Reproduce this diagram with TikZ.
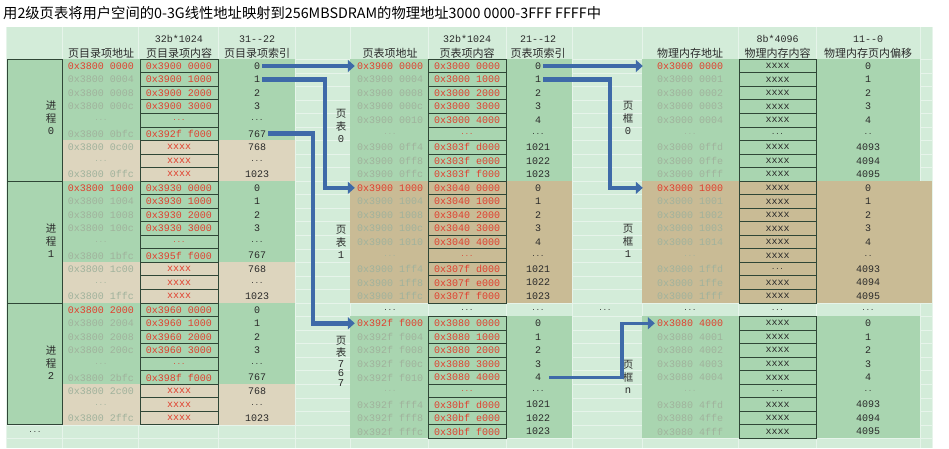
\documentclass[tikz,border=0pt]{standalone}
\usepackage{fontspec}
\setmonofont{Liberation Mono}
\newfontfamily\cjk{Noto Sans CJK SC}
\usepackage{xcolor}
\usepackage{tikz}
\usetikzlibrary{arrows.meta,positioning}

\definecolor{sheetbg}{HTML}{D3ECD9}
\definecolor{gridc}{HTML}{E6F4EA}
\definecolor{hlgreen}{HTML}{A9D5B0}
\definecolor{beige}{HTML}{DDD5BE}
\definecolor{khaki}{HTML}{C9BB95}
\definecolor{boxline}{HTML}{2F4636}
\definecolor{cellred}{HTML}{E0402F}
\definecolor{addrgray}{HTML}{A0B29C}
\definecolor{idxdark}{HTML}{2A2A2A}
\definecolor{arrowblue}{HTML}{3E6AA8}

\newcommand\dts{{\fontsize{7}{8}\selectfont...}}
\newcommand\twodts{{\fontsize{7}{8}\selectfont..}}

\tikzset{
  cell/.style={font=\ttfamily\fontsize{10}{12}\selectfont, inner sep=2pt},
  addrtxt/.style={cell, text=addrgray},
  boxcell/.style={cell, draw=boxline, line width=0.8pt, minimum width=78pt,
    minimum height=13.54pt, inner sep=0pt, text=cellred},
  idxtxt/.style={cell, text=idxdark},
  headtxt/.style={font=\cjk\fontsize{11}{13}\selectfont, text=idxdark, inner sep=0pt},
  bittxt/.style={font=\ttfamily\fontsize{10}{12}\selectfont, text=idxdark, inner sep=0pt},
  sidelabel/.style={font=\cjk\fontsize{10.5}{12.5}\selectfont, align=center,
    text=idxdark, inner sep=0pt},
  pagearrow/.style={draw=arrowblue, line width=4.5pt,
    -{Triangle[length=7pt,width=12pt]}},
}

\begin{document}
\begin{tikzpicture}[x=1pt,y=-1pt]
  \useasboundingbox (0,0) rectangle (949,448);

  % title
  \node[anchor=west, font=\cjk\fontsize{14.3}{16}\selectfont, inner sep=0pt] (title) at (3,13)
    {用2级页表将用户空间的0-3G线性地址映射到256MBSDRAM的物理地址3000 0000-3FFF FFFF中};

  % sheet and grid
  \fill[sheetbg] (6,27) rectangle (932,448);
  \foreach \gx in {6,62,138,218,295,350,428,506,572,642,738,816,920,932}
    \draw[gridc] (\gx,27) -- (\gx,448);
  \foreach \gk in {0,...,28}
    \draw[gridc] (6,{59.2+13.54*\gk}) -- (932,{59.2+13.54*\gk});

  % coloured blocks
  \foreach \p in {0,1,2} {
    \fill[hlgreen] (62,{59.2+13.54*9*\p}) rectangle (295,{59.2+13.54*(9*\p+6)});
    \fill[beige] (62,{59.2+13.54*(9*\p+6)}) rectangle (295,{59.2+13.54*(9*\p+9)});
    \draw[boxline, line width=0.8pt, fill=hlgreen] (7,{59.2+13.54*9*\p}) rectangle (62,{59.2+13.54*(9*\p+9)});
  }
  \foreach \rb/\blk in {0/hlgreen,9/khaki,19/hlgreen} {
    \fill[\blk] (350,{59.2+13.54*\rb}) rectangle (572,{59.2+13.54*(\rb+9)});
  }
  \fill[hlgreen] (642,59.2) rectangle (920,{59.2+13.54*9});
  \fill[khaki] (642,{59.2+13.54*9}) rectangle (932,{59.2+13.54*18});
  \fill[hlgreen] (642,{59.2+13.54*19}) rectangle (920,{59.2+13.54*28});

  % headers
  \node[headtxt] (h1) at (101,53) {页目录项地址};
  \node[bittxt] (b2) at (179,39) {32b*1024};
  \node[headtxt] (h2) at (179,53) {页目录项内容};
  \node[bittxt] (b3) at (257,39) {31--22};
  \node[headtxt] (h3) at (257,53) {页目录项索引};
  \node[headtxt] (h4) at (390,53) {页表项地址};
  \node[bittxt] (b5) at (467,39) {32b*1024};
  \node[headtxt] (h5) at (467,53) {页表项内容};
  \node[bittxt] (b6) at (538,39) {21--12};
  \node[headtxt] (h6) at (538,53) {页表项索引};
  \node[headtxt] (h7) at (690,53) {物理内存地址};
  \node[bittxt] (b8) at (777.5,39) {8b*4096};
  \node[headtxt] (h8) at (777.5,53) {物理内存内容};
  \node[bittxt] (b9) at (868,39) {11--0};
  \node[headtxt] (h9) at (868,53) {物理内存页内偏移};

  % page directory (one per process)
  \foreach \p/\cc/\ce in {0/00/2f,1/30/5f,2/60/8f} {
    \foreach \ad/\ct/\n [count=\k from 0] in {
        0x3800 \p000/0x39\cc{} 0000/0,
        0x3800 \p004/0x39\cc{} 1000/1,
        0x3800 \p008/0x39\cc{} 2000/2,
        0x3800 \p00c/0x39\cc{} 3000/3,
        \dts/\dts/\dts,
        0x3800 \p{}bfc/0x39\ce{} f000/767,
        0x3800 \p{}c00/xxxx/768,
        \dts/xxxx/\dts,
        0x3800 \p{}ffc/xxxx/1023} {
      \pgfmathtruncatemacro\rw{9*\p+\k}
      \ifnum\k=0 \def\acol{cellred}\else\def\acol{addrgray}\fi
      \node[addrtxt, text=\acol] (da\rw) at (101,{66+13.54*\rw}) {\ad};
      \node[boxcell] (dc\rw) at (179,{66+13.54*\rw}) {\ct};
      \node[idxtxt] (di\rw) at (257,{66+13.54*\rw}) {\n};
    }
  }
  \node[idxtxt] (da27) at (35,{66+13.54*27}) {\dts};

  % page tables
  \foreach \rb/\pta/\ptc/\pte in {0/0x3900 0/3000/303f, 9/0x3900 1/3040/307f, 19/0x392f f/3080/30bf} {
    \foreach \ad/\ct/\n [count=\k from 0] in {
        \pta000/0x\ptc{} 0000/0,
        \pta004/0x\ptc{} 1000/1,
        \pta008/0x\ptc{} 2000/2,
        \pta00c/0x\ptc{} 3000/3,
        \pta010/0x\ptc{} 4000/4,
        \dts/\dts/\dts,
        \pta{}ff4/0x\pte{} d000/1021,
        \pta{}ff8/0x\pte{} e000/1022,
        \pta{}ffc/0x\pte{} f000/1023} {
      \pgfmathtruncatemacro\rw{\rb+\k}
      \ifnum\k=0 \def\acol{cellred}\else\def\acol{addrgray}\fi
      \node[addrtxt, text=\acol] (pa\rw) at (390,{66+13.54*\rw}) {\ad};
      \node[boxcell] (pc\rw) at (467,{66+13.54*\rw}) {\ct};
      \node[idxtxt] (pi\rw) at (538,{66+13.54*\rw}) {\n};
    }
  }

  % page frames
  \foreach \rb/\fa/\fe/\cf/\cg in {0/0x3000 0/004/\dts/xxxx, 9/0x3000 1/014/xxxx/\dts, 19/0x3080 4/004/\dts/xxxx} {
    \foreach \ad/\ct/\n [count=\k from 0] in {
        \fa000/xxxx/0,
        \fa001/xxxx/1,
        \fa002/xxxx/2,
        \fa003/xxxx/3,
        \fa\fe/xxxx/4,
        \dts/\cf/\twodts,
        \fa{}ffd/\cg/4093,
        \fa{}ffe/xxxx/4094,
        \fa{}fff/xxxx/4095} {
      \pgfmathtruncatemacro\rw{\rb+\k}
      \ifnum\k=0 \def\acol{cellred}\else\def\acol{addrgray}\fi
      \node[addrtxt, text=\acol] (fa\rw) at (690,{66+13.54*\rw}) {\ad};
      \node[boxcell, minimum width=77pt, text=idxdark] (fc\rw) at (777.5,{66+13.54*\rw}) {\ct};
      \node[idxtxt] (fo\rw) at (868,{66+13.54*\rw}) {\n};
    }
  }

  % row 18 gaps
  \foreach \gx/\gn in {390/pa18,467/pc18,538/pi18,605/gap18,690/fa18,777.5/fc18,868/fo18}
    \node[idxtxt] (\gn) at (\gx,{66+13.54*18}) {\dts};

  % side labels
  \node[sidelabel] (proc0) at (51,118) {进\\程\\{\ttfamily 0}};
  \node[sidelabel] (proc1) at (51,241) {进\\程\\{\ttfamily 1}};
  \node[sidelabel] (proc2) at (51,363) {进\\程\\{\ttfamily 2}};
  \node[sidelabel] (tab0) at (341,126) {页\\表\\{\ttfamily 0}};
  \node[sidelabel] (tab1) at (341,242) {页\\表\\{\ttfamily 1}};
  \node[sidelabel] (tab767) at (341,361) {页\\表\\[-2pt]{\ttfamily 7}\\[-3pt]{\ttfamily 6}\\[-3pt]{\ttfamily 7}};
  \node[sidelabel] (frm0) at (628,118) {页\\框\\{\ttfamily 0}};
  \node[sidelabel] (frm1) at (628,241) {页\\框\\{\ttfamily 1}};
  \node[sidelabel] (frmn) at (628,377) {页\\框\\{\ttfamily n}};

  % directory -> page tables
  \draw[pagearrow] (di0.east) -- (pa0.west);
  \draw[pagearrow] (di1.east) -- ++(63,0) |- (pa9.west);
  \draw[pagearrow] (di5.east) -- ++(45,0) |- (pa19.west);
  % page tables -> frames
  \draw[pagearrow, shorten >=12pt] (pi0.east) -- (fa0.west);
  \draw[pagearrow, shorten >=12pt] (pi1.east) -- ++(67,0) |- (fa9.west);
  \draw[pagearrow, line width=3.5pt, shorten <=6pt] (pi23.east) -- ++(79,0) |- (fa19.west);
\end{tikzpicture}
\end{document}
